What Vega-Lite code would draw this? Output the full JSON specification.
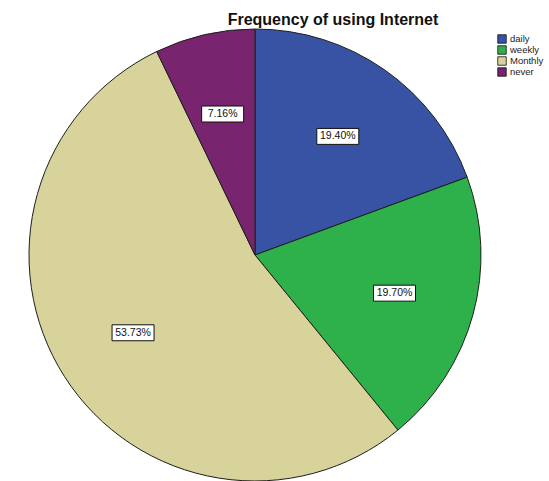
{
  "$schema": "https://vega.github.io/schema/vega-lite/v6.json",
  "autosize": {"type": "none"},
  "padding": {"left": 29, "top": 29, "right": 68, "bottom": 0},
  "width": 452,
  "height": 452,
  "background": "white",
  "title": {
    "text": "Frequency of using Internet",
    "font": "Liberation Sans",
    "fontSize": 16,
    "fontWeight": "bold",
    "color": "#111111",
    "anchor": "middle",
    "frame": "group",
    "baseline": "alphabetic",
    "offset": -14,
    "dx": 78
  },
  "config": {"view": {"stroke": null}},
  "data": {
    "values": [
      {"category": "daily", "pct": 0.1940},
      {"category": "weekly", "pct": 0.1970},
      {"category": "Monthly", "pct": 0.5373},
      {"category": "never", "pct": 0.0716}
    ]
  },
  "transform": [
    {"window": [{"op": "row_number", "as": "rank"}]},
    {"window": [{"op": "sum", "field": "pct", "as": "cum"}], "sort": [{"field": "rank"}], "frame": [null, 0]},
    {"calculate": "2*PI*(datum.cum - datum.pct/2)", "as": "mid"},
    {"calculate": "0.64*sin(datum.mid)", "as": "lx"},
    {"calculate": "0.64*cos(datum.mid)", "as": "ly"}
  ],
  "layer": [
    {
      "mark": {"type": "arc", "outerRadius": 226, "stroke": "#1e1e1e", "strokeWidth": 1},
      "encoding": {
        "theta": {"field": "pct", "type": "quantitative", "stack": true},
        "order": {"field": "rank", "type": "quantitative"},
        "color": {
          "field": "category",
          "type": "nominal",
          "sort": ["daily", "weekly", "Monthly", "never"],
          "scale": {
            "domain": ["daily", "weekly", "Monthly", "never"],
            "range": ["#3953A4", "#2EB14B", "#D7D39A", "#78246F"]
          },
          "legend": {
            "title": null,
            "orient": "none",
            "legendX": 468,
            "legendY": 5,
            "padding": 0,
            "symbolType": "square",
            "symbolSize": 72,
            "symbolStrokeColor": "#111111",
            "symbolStrokeWidth": 0.8,
            "symbolOpacity": 1,
            "labelFont": "Liberation Sans",
            "labelFontSize": 9.5,
            "labelColor": "#222222",
            "labelOffset": 3,
            "rowPadding": -2.7,
            "labelLimit": 80
          }
        }
      }
    },
    {
      "mark": {
        "type": "point",
        "shape": "M-1,-0.38H1V0.38H-1Z",
        "filled": true,
        "fill": "white",
        "stroke": "#111111",
        "strokeWidth": 1,
        "opacity": 1,
        "size": 1764
      },
      "encoding": {
        "x": {"field": "lx", "type": "quantitative", "scale": {"domain": [-1, 1], "nice": false, "zero": false}, "axis": null},
        "y": {"field": "ly", "type": "quantitative", "scale": {"domain": [-1, 1], "nice": false, "zero": false}, "axis": null}
      }
    },
    {
      "mark": {"type": "text", "font": "Liberation Sans", "fontSize": 10.5, "color": "#111111", "align": "center", "baseline": "middle"},
      "encoding": {
        "x": {"field": "lx", "type": "quantitative"},
        "y": {"field": "ly", "type": "quantitative"},
        "text": {"field": "pct", "type": "quantitative", "format": ".2%"}
      }
    }
  ]
}
